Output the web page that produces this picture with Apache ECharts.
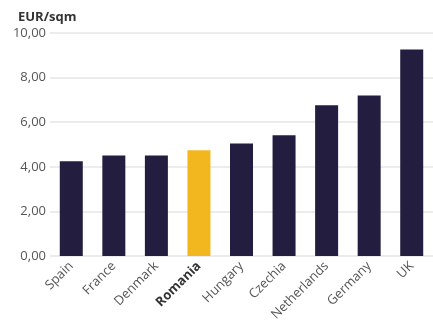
<!DOCTYPE html>
<html>
<head>
<meta charset="utf-8">
<style>
  html, body { margin: 0; padding: 0; background: #fff; }
  #chart { width: 433px; height: 328px; }
</style>
<script src="https://cdn.jsdelivr.net/npm/echarts@6/dist/echarts.min.js"></script>
</head>
<body>
<div id="chart"></div>
<script>
// Average rent per square metre by country
const countries = ['Spain', 'France', 'Denmark', 'Romania', 'Hungary', 'Czechia', 'Netherlands', 'Germany', 'UK'];
const rentValues = [4.25, 4.51, 4.51, 4.74, 5.05, 5.41, 6.76, 7.20, 9.26];
const highlightCountry = 'Romania';
const yTicks = [0, 2, 4, 6, 8, 10];

const NAVY = '#231e3f';
const GOLD = '#f2b61f';
const FONT = '"Open Sans", sans-serif';

const chart = echarts.init(document.getElementById('chart'), null, { renderer: 'canvas' });

chart.setOption({
  animation: false,
  textStyle: { fontFamily: FONT },
  title: {
    text: 'EUR/sqm',
    left: 13,
    top: 6,
    textStyle: { fontSize: 13, fontWeight: 'bold', color: '#333', fontFamily: FONT }
  },
  grid: { left: 50, right: -1, top: 33, bottom: 72, containLabel: false },
  xAxis: {
    type: 'category',
    data: countries,
    axisLine: { show: false },
    axisTick: { show: false },
    axisLabel: {
      rotate: 45,
      interval: 0,
      margin: 8,
      fontSize: 13,
      color: '#555',
      fontFamily: FONT,
      formatter: v => v === highlightCountry ? '{b|' + v + '}' : v,
      rich: { b: { fontWeight: 'bold', color: '#333', fontSize: 13, fontFamily: FONT } }
    }
  },
  yAxis: {
    type: 'value',
    min: yTicks[0],
    max: yTicks[yTicks.length - 1],
    interval: yTicks[1] - yTicks[0],
    axisLine: { show: false },
    axisTick: { show: false },
    splitLine: { lineStyle: { color: '#e6e6e6', width: 1.5 } },
    axisLabel: {
      fontSize: 13,
      color: '#555',
      margin: 4,
      fontFamily: FONT,
      formatter: v => v.toFixed(2).replace('.', ',')
    }
  },
  series: [{
    type: 'bar',
    barWidth: 23,
    data: rentValues.map((v, i) => ({
      value: v,
      itemStyle: { color: countries[i] === highlightCountry ? GOLD : NAVY }
    }))
  }]
});
</script>
</body>
</html>
